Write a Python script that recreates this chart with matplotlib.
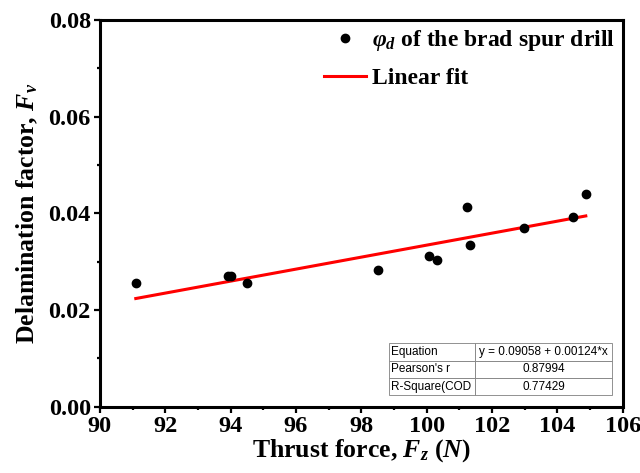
"""
Delamination factor vs thrust force for the brad spur drill, with linear fit.
"""

import numpy as np
import matplotlib
matplotlib.use("Agg")
import matplotlib.pyplot as plt

# Data
thrust_force = [91.10, 93.92, 94.00, 94.49, 98.51, 100.08, 100.32, 101.25, 101.33, 102.98, 104.47, 104.87]
delamination = [0.0255, 0.0271, 0.0270, 0.0255, 0.0283, 0.0312, 0.0303, 0.0413, 0.0334, 0.0370, 0.0393, 0.0439]

# Fit results as reported in the chart table
fit_intercept = -0.09058
fit_slope = 0.00124
table_rows = [
    ["Equation", "y = 0.09058 + 0.00124*x"],
    ["Pearson's r", "0.87994"],
    ["R-Square(COD", "0.77429"],
]

plt.rcParams['font.family'] = ['Liberation Serif', 'DejaVu Serif']
plt.rcParams['font.weight'] = 'bold'
plt.rcParams['mathtext.fontset'] = 'custom'
plt.rcParams['mathtext.rm'] = 'Liberation Serif:bold'
plt.rcParams['mathtext.it'] = 'Liberation Serif:italic:bold'
plt.rcParams['mathtext.bf'] = 'Liberation Serif:bold'

fig = plt.figure(figsize=(6.4, 4.73), dpi=100)
ax = fig.add_axes([0.156, 0.140, 0.817, 0.818])

ax.plot(thrust_force, delamination, 'o', color='black', markersize=6,
        linestyle='none', label=r'$\varphi_d$ of the brad spur drill', zorder=3)

fit_x = np.array([min(thrust_force), max(thrust_force)])
fit_y = fit_intercept + fit_slope * fit_x
ax.plot(fit_x, fit_y, color='red', linewidth=2.2, label='Linear fit', zorder=2)

ax.set_xlim(90, 106)
ax.set_ylim(0, 0.08)
ax.set_xticks(np.arange(90, 107, 2))
ax.set_xticks(np.arange(91, 106, 2), minor=True)
ax.set_yticks(np.arange(0, 0.081, 0.02))
ax.set_yticks(np.arange(0.01, 0.08, 0.02), minor=True)
ax.yaxis.set_major_formatter(matplotlib.ticker.FormatStrFormatter('%.2f'))

ax.tick_params(which='major', direction='out', length=4.5, width=1.6, labelsize=17.5, pad=2)
ax.tick_params(which='minor', direction='out', length=2.2, width=1.6)
for spine in ax.spines.values():
    spine.set_linewidth(2.2)

ax.set_xlabel(r'Thrust force, $F_z$ ($N$)', fontsize=18.5, fontweight='bold', labelpad=0)
ax.set_ylabel(r'Delamination factor, $F_v$', fontsize=18.5, fontweight='bold', labelpad=6)

ax.legend(loc='upper right', bbox_to_anchor=(1.0, 1.0), frameon=False,
          prop={'family': 'Liberation Serif', 'weight': 'bold', 'size': 17},
          handlelength=1.75, handletextpad=0.25, labelspacing=0.6,
          borderpad=0.0, borderaxespad=0.35)

tbl = ax.table(cellText=table_rows, colWidths=[0.165, 0.261],
               bbox=[0.553, 0.030, 0.426, 0.134], zorder=4)
tbl.auto_set_font_size(False)
for (r, c), cell in tbl.get_celld().items():
    cell.set_edgecolor('#808080')
    cell.set_linewidth(0.6)
    cell.get_text().set_fontfamily('Liberation Sans')
    cell.get_text().set_fontweight('normal')
    cell.get_text().set_fontsize(8.5)
    if c == 0:
        cell.get_text().set_horizontalalignment('left')
        cell.PAD = 0.02
    else:
        cell.get_text().set_horizontalalignment('center')

fig.savefig('out.png', dpi=100)
